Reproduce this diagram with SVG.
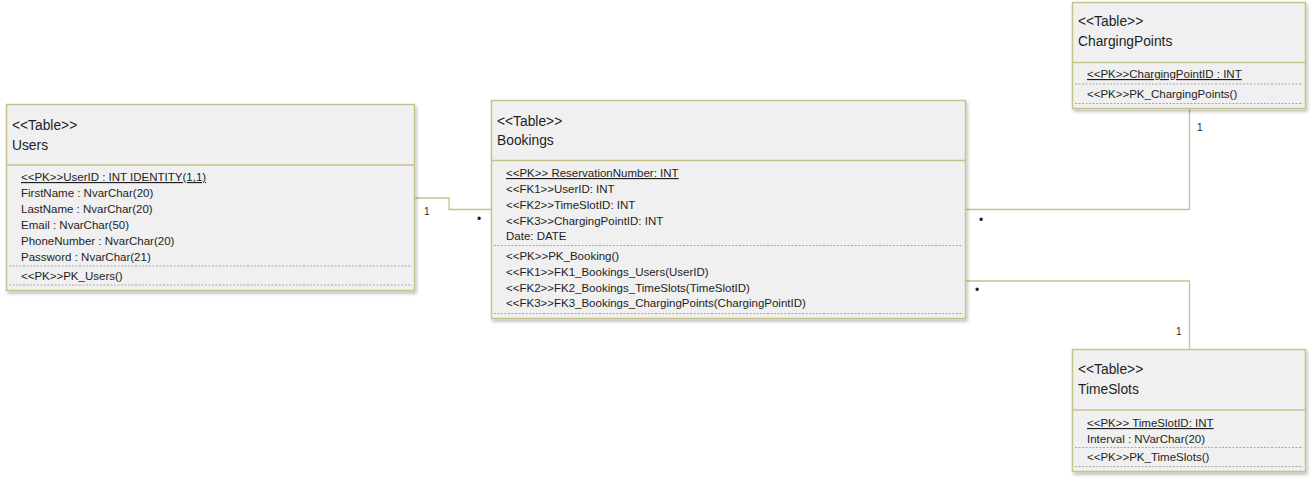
<svg xmlns="http://www.w3.org/2000/svg" width="1312" height="481" viewBox="0 0 1312 481">
<style>
.box{fill:#f0f0f0;stroke:#c6c28c;stroke-width:1.5}
.sep{stroke:#c6c28c;stroke-width:1.5}
.dash{stroke:#a8a8a8;stroke-width:1;stroke-dasharray:2,1.5}
.conn{fill:none;stroke:#c6c28c;stroke-width:1.3}
.title{font-family:"Liberation Sans",Arial,sans-serif;font-size:13.8px;fill:#1e1e1e}
.attr{font-family:"Liberation Sans",Arial,sans-serif;font-size:11.5px;fill:#1e1e1e}
.pk{text-decoration:underline}
.lbl{font-family:"Liberation Sans",Arial,sans-serif;font-size:10px;fill:#1e1e1e}
.dot{font-family:"Liberation Sans",Arial,sans-serif;font-size:12px;fill:#1e1e1e}
</style>
<defs>
<filter id="sh" x="-5%" y="-5%" width="112%" height="115%">
<feDropShadow dx="1.5" dy="2.5" stdDeviation="1.5" flood-color="#000" flood-opacity="0.25"/>
</filter>
</defs>
<rect width="1312" height="481" fill="#ffffff"/>
<g id="connectors">
<polyline class="conn" points="415,198 449,198 449,209.5 491,209.5"/>
<polyline class="conn" points="966,209.5 1189.5,209.5 1189.5,108"/>
<polyline class="conn" points="965,281 1189.5,281 1189.5,349"/>
<text class="lbl" x="424" y="215">1</text>
<text class="dot" x="477" y="223">•</text>
<text class="lbl" x="1197" y="131">1</text>
<text class="dot" x="979" y="224">•</text>
<text class="dot" x="975" y="294">•</text>
<text class="lbl" x="1176" y="335">1</text>
</g>
<g id="Users">
<rect class="box" x="6.5" y="104.5" width="408" height="186" filter="url(#sh)"/>
<line class="sep" x1="6.5" y1="165" x2="414.5" y2="165"/>
<text class="title" x="12" y="130">&lt;&lt;Table&gt;&gt;</text>
<text class="title" x="12" y="150">Users</text>
<text class="attr pk" x="21" y="181">&lt;&lt;PK&gt;&gt;UserID : INT IDENTITY(1,1)</text>
<text class="attr" x="21" y="197">FirstName : NvarChar(20)</text>
<text class="attr" x="21" y="213">LastName : NvarChar(20)</text>
<text class="attr" x="21" y="229">Email : NvarChar(50)</text>
<text class="attr" x="21" y="245">PhoneNumber : NvarChar(20)</text>
<text class="attr" x="21" y="261">Password : NvarChar(21)</text>
<line class="dash" x1="9" y1="266" x2="412" y2="266"/>
<text class="attr" x="21" y="280">&lt;&lt;PK&gt;&gt;PK_Users()</text>
<line class="dash" x1="9" y1="285" x2="412" y2="285"/>
</g>
<g id="Bookings">
<rect class="box" x="491.5" y="100.5" width="474" height="218" filter="url(#sh)"/>
<line class="sep" x1="491.5" y1="160.5" x2="965.5" y2="160.5"/>
<text class="title" x="497" y="126">&lt;&lt;Table&gt;&gt;</text>
<text class="title" x="497" y="145">Bookings</text>
<text class="attr pk" x="506" y="177">&lt;&lt;PK&gt;&gt; ReservationNumber: INT</text>
<text class="attr" x="506" y="193">&lt;&lt;FK1&gt;&gt;UserID: INT</text>
<text class="attr" x="506" y="209">&lt;&lt;FK2&gt;&gt;TimeSlotID: INT</text>
<text class="attr" x="506" y="225">&lt;&lt;FK3&gt;&gt;ChargingPointID: INT</text>
<text class="attr" x="506" y="240">Date: DATE</text>
<line class="dash" x1="494" y1="245.5" x2="963" y2="245.5"/>
<text class="attr" x="506" y="260">&lt;&lt;PK&gt;&gt;PK_Booking()</text>
<text class="attr" x="506" y="276">&lt;&lt;FK1&gt;&gt;FK1_Bookings_Users(UserID)</text>
<text class="attr" x="506" y="292">&lt;&lt;FK2&gt;&gt;FK2_Bookings_TimeSlots(TimeSlotID)</text>
<text class="attr" x="506" y="307">&lt;&lt;FK3&gt;&gt;FK3_Bookings_ChargingPoints(ChargingPointID)</text>
<line class="dash" x1="494" y1="313.5" x2="963" y2="313.5"/>
</g>
<g id="ChargingPoints">
<rect class="box" x="1072.5" y="2.5" width="233" height="106" filter="url(#sh)"/>
<line class="sep" x1="1072.5" y1="62.5" x2="1305.5" y2="62.5"/>
<text class="title" x="1078" y="26">&lt;&lt;Table&gt;&gt;</text>
<text class="title" x="1078" y="46">ChargingPoints</text>
<text class="attr pk" x="1087" y="78">&lt;&lt;PK&gt;&gt;ChargingPointID : INT</text>
<line class="dash" x1="1075" y1="84" x2="1303" y2="84"/>
<text class="attr" x="1087" y="98">&lt;&lt;PK&gt;&gt;PK_ChargingPoints()</text>
<line class="dash" x1="1075" y1="103.5" x2="1303" y2="103.5"/>
</g>
<g id="TimeSlots">
<rect class="box" x="1072.5" y="349.5" width="233" height="122" filter="url(#sh)"/>
<line class="sep" x1="1072.5" y1="410" x2="1305.5" y2="410"/>
<text class="title" x="1078" y="374">&lt;&lt;Table&gt;&gt;</text>
<text class="title" x="1078" y="394">TimeSlots</text>
<text class="attr pk" x="1087" y="427">&lt;&lt;PK&gt;&gt; TimeSlotID: INT</text>
<text class="attr" x="1087" y="443">Interval : NVarChar(20)</text>
<line class="dash" x1="1075" y1="447.5" x2="1303" y2="447.5"/>
<text class="attr" x="1087" y="461">&lt;&lt;PK&gt;&gt;PK_TimeSlots()</text>
<line class="dash" x1="1075" y1="466.5" x2="1303" y2="466.5"/>
</g>
</svg>
